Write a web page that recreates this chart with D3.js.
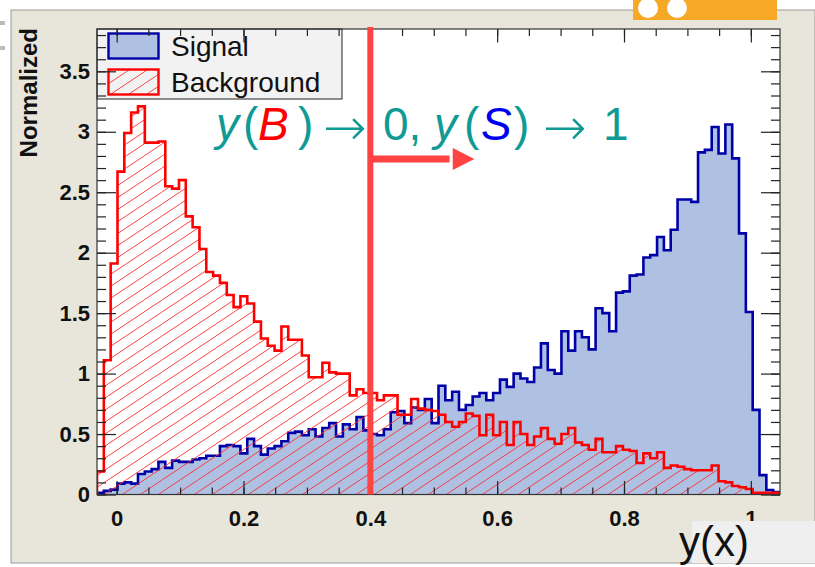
<!DOCTYPE html>
<html>
<head>
<meta charset="utf-8">
<script src="https://cdn.jsdelivr.net/npm/d3@7"></script>
<style>
body { margin: 0; background: #fff; }
svg { display: block; }
text { font-family: "Liberation Sans", Arial, sans-serif; }
</style>
</head>
<body>
<svg id="chart"></svg>
<script>
CHART_WIDTH = 815;
CHART_HEIGHT = 567;
FRAME = { left: 97, right: 780, top: 29, bottom: 494.5 };

var X_DOMAIN = [-0.031, 1.046];
var Y_DOMAIN = [0, 3.85];

// 100 bins spanning X_DOMAIN
var signalValues = [
    0.015, 0.03, 0.04, 0.09, 0.10, 0.09, 0.17, 0.19, 0.21, 0.27,
    0.22, 0.28, 0.27, 0.27, 0.29, 0.30, 0.32, 0.32, 0.40, 0.41,
    0.40, 0.34, 0.46, 0.40, 0.33, 0.38, 0.40, 0.44, 0.51, 0.52,
    0.49, 0.54, 0.48, 0.55, 0.59, 0.48, 0.58, 0.54, 0.64, 0.53,
    0.50, 0.49, 0.54, 0.68, 0.69, 0.59, 0.72, 0.70, 0.79, 0.59,
    0.90, 0.78, 0.85, 0.70, 0.74, 0.81, 0.84, 0.78, 0.84, 0.95,
    0.89, 1.00, 0.96, 0.93, 1.05, 1.25, 1.03, 1.00, 1.35, 1.19,
    1.35, 1.30, 1.20, 1.54, 1.50, 1.35, 1.67, 1.68, 1.81, 1.82,
    1.96, 1.98, 2.13, 2.02, 2.19, 2.44, 2.44, 2.42, 2.83, 2.85,
    3.04, 2.82, 3.06, 2.78, 2.16, 1.51, 0.70, 0.16, 0.037, 0.02
];
var backgroundValues = [
    0.19, 1.11, 1.91, 2.67, 2.99, 3.16, 3.21, 2.91, 2.91, 2.92,
    2.55, 2.53, 2.60, 2.30, 2.21, 2.03, 1.84, 1.81, 1.75, 1.65,
    1.55, 1.64, 1.58, 1.43, 1.29, 1.23, 1.19, 1.39, 1.28, 1.28,
    1.15, 0.97, 0.97, 1.09, 1.01, 1.00, 1.00, 0.82, 0.87, 0.84,
    0.84, 0.78, 0.82, 0.82, 0.66, 0.66, 0.79, 0.71, 0.70, 0.69,
    0.66, 0.60, 0.56, 0.60, 0.67, 0.65, 0.49, 0.66, 0.49, 0.60,
    0.41, 0.60, 0.50, 0.41, 0.48, 0.55, 0.46, 0.42, 0.50, 0.55,
    0.43, 0.41, 0.37, 0.46, 0.35, 0.35, 0.40, 0.37, 0.36, 0.26,
    0.34, 0.30, 0.35, 0.22, 0.24, 0.23, 0.21, 0.20, 0.20, 0.20,
    0.24, 0.11, 0.10, 0.07, 0.06, 0.045, 0.015, 0.015, 0.015, 0.015
];

var xTickValues = [0, 0.2, 0.4, 0.6, 0.8, 1];
var xTickLabels = ["0", "0.2", "0.4", "0.6", "0.8", "1"];
var yTickValues = [0, 0.5, 1, 1.5, 2, 2.5, 3, 3.5];
var yTickLabels = ["0", "0.5", "1", "1.5", "2", "2.5", "3", "3.5"];
var legendLabels = ["Signal", "Background"];
var yAxisTitle = "Normalized";
var xAxisTitle = "y(x)";
var cutValue = 0.4;

var TEAL = "#109a96";

function histPath(vals, x, y, closed) {
    var w = (X_DOMAIN[1] - X_DOMAIN[0]) / vals.length;
    var p = d3.path();
    p.moveTo(x(X_DOMAIN[0]), y(0));
    vals.forEach(function(v, i) {
        var x0 = X_DOMAIN[0] + i * w;
        p.lineTo(x(x0), y(v));
        p.lineTo(x(x0 + w), y(v));
    });
    p.lineTo(x(X_DOMAIN[1]), y(0));
    if (closed) p.closePath();
    return p.toString();
}

function buildChart() {
    var svg = d3.select("#chart")
        .attr("width", CHART_WIDTH)
        .attr("height", CHART_HEIGHT);

    var x = d3.scaleLinear().domain(X_DOMAIN).range([FRAME.left, FRAME.right]);
    var y = d3.scaleLinear().domain(Y_DOMAIN).range([FRAME.bottom, FRAME.top]);

    var defs = svg.append("defs");
    var hatch = defs.append("pattern")
        .attr("id", "hatch")
        .attr("patternUnits", "userSpaceOnUse")
        .attr("width", 18)
        .attr("height", 12);
    hatch.append("path")
        .attr("d", "M-2,13.33L20,-1.33")
        .attr("stroke", "#ff2a2a")
        .attr("stroke-width", 0.9)
        .attr("fill", "none");
    defs.append("clipPath").attr("id", "frame-clip")
        .append("rect")
        .attr("x", FRAME.left).attr("y", FRAME.top)
        .attr("width", FRAME.right - FRAME.left)
        .attr("height", FRAME.bottom - FRAME.top);

    // canvas (ROOT style beige pad)
    svg.append("rect").attr("width", CHART_WIDTH).attr("height", CHART_HEIGHT).attr("fill", "#fff");
    svg.append("rect")
        .attr("x", 11).attr("y", 10)
        .attr("width", CHART_WIDTH - 11).attr("height", 553)
        .attr("fill", "#e8e6da")
        .attr("stroke", "#9a9a9a");
    // bits of the slide behind
    svg.append("rect").attr("x", 633).attr("y", 0).attr("width", 144).attr("height", 20).attr("fill", "#f7a826");
    [648, 677].forEach(function(cx) {
        svg.append("circle").attr("cx", cx).attr("cy", 8).attr("r", 10).attr("fill", "#fff");
    });
    [21, 46].forEach(function(yy) {
        svg.append("rect").attr("x", 0).attr("y", yy).attr("width", 5).attr("height", 4).attr("fill", "#bbb");
    });

    // plot frame
    svg.append("rect")
        .attr("x", FRAME.left).attr("y", FRAME.top)
        .attr("width", FRAME.right - FRAME.left)
        .attr("height", FRAME.bottom - FRAME.top)
        .attr("fill", "#fff");

    var plot = svg.append("g").attr("clip-path", "url(#frame-clip)");

    plot.append("path")
        .attr("d", histPath(signalValues, x, y, true))
        .attr("fill", "#afc1e3");
    plot.append("path")
        .attr("d", histPath(signalValues, x, y, false))
        .attr("fill", "none")
        .attr("stroke", "#0000a8")
        .attr("stroke-width", 2.6);

    plot.append("path")
        .attr("d", histPath(backgroundValues, x, y, true))
        .attr("fill", "url(#hatch)");
    plot.append("path")
        .attr("d", histPath(backgroundValues, x, y, false))
        .attr("fill", "none")
        .attr("stroke", "#ff0000")
        .attr("stroke-width", 2.6);

    // legend
    var legend = svg.append("g");
    legend.append("rect")
        .attr("x", FRAME.left).attr("y", FRAME.top)
        .attr("width", 245).attr("height", 70)
        .attr("fill", "#f2f2f2")
        .attr("stroke", "#222")
        .attr("stroke-width", 1);
    var swatches = [
        { fill: "#afc1e3", stroke: "#0000a8" },
        { fill: "url(#hatch)", stroke: "#ff0000" }
    ];
    legendLabels.forEach(function(label, i) {
        var cy = FRAME.top + 17 + i * 36;
        legend.append("rect")
            .attr("x", 108.5).attr("y", cy - 12.5)
            .attr("width", 50).attr("height", 25)
            .attr("fill", swatches[i].fill)
            .attr("stroke", swatches[i].stroke)
            .attr("stroke-width", 2.4);
        legend.append("text")
            .attr("x", 171).attr("y", cy + 10)
            .attr("font-size", 28)
            .attr("fill", "#111")
            .text(label);
    });

    // axes: ticks pointing inward on all four sides
    var axisStyle = function(g) {
        g.attr("font-size", null).attr("font-family", null);
        g.select(".domain").remove();
        g.selectAll(".tick line").attr("stroke", "#222").attr("stroke-width", 1.2);
        g.selectAll(".tick text")
            .style("font-family", "'Liberation Sans', Arial, sans-serif")
            .style("font-weight", "bold")
            .style("font-size", "22px")
            .attr("fill", "#111");
    };

    var minorX = d3.range(0, 1.0001, 0.05);
    var minorY = d3.range(0, 3.85, 0.1);

    svg.append("g")
        .attr("transform", "translate(0," + FRAME.bottom + ")")
        .call(d3.axisBottom(x).tickValues(minorX).tickSize(-7).tickFormat(""))
        .call(axisStyle);
    svg.append("g")
        .attr("transform", "translate(0," + FRAME.bottom + ")")
        .call(d3.axisBottom(x).tickValues(xTickValues).tickSize(-13.5).tickPadding(16)
            .tickFormat(function(d, i) { return xTickLabels[i]; }))
        .call(axisStyle);
    svg.append("g")
        .attr("transform", "translate(0," + FRAME.top + ")")
        .call(d3.axisTop(x).tickValues(minorX).tickSize(-7).tickFormat(""))
        .call(axisStyle);
    svg.append("g")
        .attr("transform", "translate(0," + FRAME.top + ")")
        .call(d3.axisTop(x).tickValues(xTickValues).tickSize(-13.5).tickFormat(""))
        .call(axisStyle);

    svg.append("g")
        .attr("transform", "translate(" + FRAME.left + ",0)")
        .call(d3.axisLeft(y).tickValues(minorY).tickSize(-9).tickFormat(""))
        .call(axisStyle);
    svg.append("g")
        .attr("transform", "translate(" + FRAME.left + ",0)")
        .call(d3.axisLeft(y).tickValues(yTickValues).tickSize(-19).tickPadding(7)
            .tickFormat(function(d, i) { return yTickLabels[i]; }))
        .call(axisStyle);
    svg.append("g")
        .attr("transform", "translate(" + FRAME.right + ",0)")
        .call(d3.axisRight(y).tickValues(minorY).tickSize(-9).tickFormat(""))
        .call(axisStyle);
    svg.append("g")
        .attr("transform", "translate(" + FRAME.right + ",0)")
        .call(d3.axisRight(y).tickValues(yTickValues).tickSize(-19).tickFormat(""))
        .call(axisStyle);

    svg.append("rect")
        .attr("x", FRAME.left).attr("y", FRAME.top)
        .attr("width", FRAME.right - FRAME.left)
        .attr("height", FRAME.bottom - FRAME.top)
        .attr("fill", "none")
        .attr("stroke", "#333")
        .attr("stroke-width", 1.2);

    // cut at y = 0.4 with arrow towards signal side
    svg.append("line")
        .attr("x1", x(cutValue)).attr("x2", x(cutValue))
        .attr("y1", FRAME.top - 2).attr("y2", FRAME.bottom)
        .attr("stroke", "#ff4242")
        .attr("stroke-width", 6);
    svg.append("line")
        .attr("x1", x(cutValue)).attr("x2", x(0.525))
        .attr("y1", 159).attr("y2", 159)
        .attr("stroke", "#ff4242")
        .attr("stroke-width", 7);
    svg.append("path")
        .attr("d", "M" + x(0.53) + ",148L" + x(0.564) + ",159L" + x(0.53) + ",170Z")
        .attr("fill", "#ff4242");

    // annotation
    var pieces = [
        { t: "y", x: 216, style: "italic", color: TEAL },
        { t: "(", x: 243, color: TEAL },
        { t: "B", x: 258, style: "italic", color: "#ff0000" },
        { t: ")", x: 298, color: TEAL },
        { t: "\u2192", x: 323, color: TEAL, arrow: true },
        { t: "0,", x: 383, color: TEAL },
        { t: "y", x: 434, style: "italic", color: TEAL },
        { t: "(", x: 464, color: TEAL },
        { t: "S", x: 481, style: "italic", color: "#0000f0" },
        { t: ")", x: 514, color: TEAL },
        { t: "\u2192", x: 543, color: TEAL, arrow: true },
        { t: "1", x: 603, color: TEAL }
    ];
    var note = svg.append("text").attr("font-size", 46);
    pieces.forEach(function(p) {
        var ts = note.append("tspan")
            .attr("x", p.x)
            .attr("y", p.arrow ? 145 : 140)
            .attr("font-style", p.style || "normal")
            .attr("fill", p.color)
            .text(p.t);
        if (p.arrow) {
            ts.attr("font-family", "'DejaVu Sans', sans-serif")
              .attr("font-size", 52)
              .attr("font-weight", 200);
        }
    });

    // axis titles
    svg.append("text")
        .attr("transform", "translate(37," + (FRAME.top - 1) + ") rotate(-90)")
        .attr("text-anchor", "end")
        .attr("font-weight", "bold")
        .attr("font-size", 24)
        .attr("fill", "#111")
        .text(yAxisTitle);

    svg.append("rect")
        .attr("x", 692).attr("y", 521)
        .attr("width", 123).attr("height", 42)
        .attr("fill", "#efefef");
    svg.append("text")
        .attr("x", 679).attr("y", 556)
        .attr("font-size", 42)
        .attr("fill", "#111")
        .text(xAxisTitle);
}

buildChart();
</script>
</body>
</html>
